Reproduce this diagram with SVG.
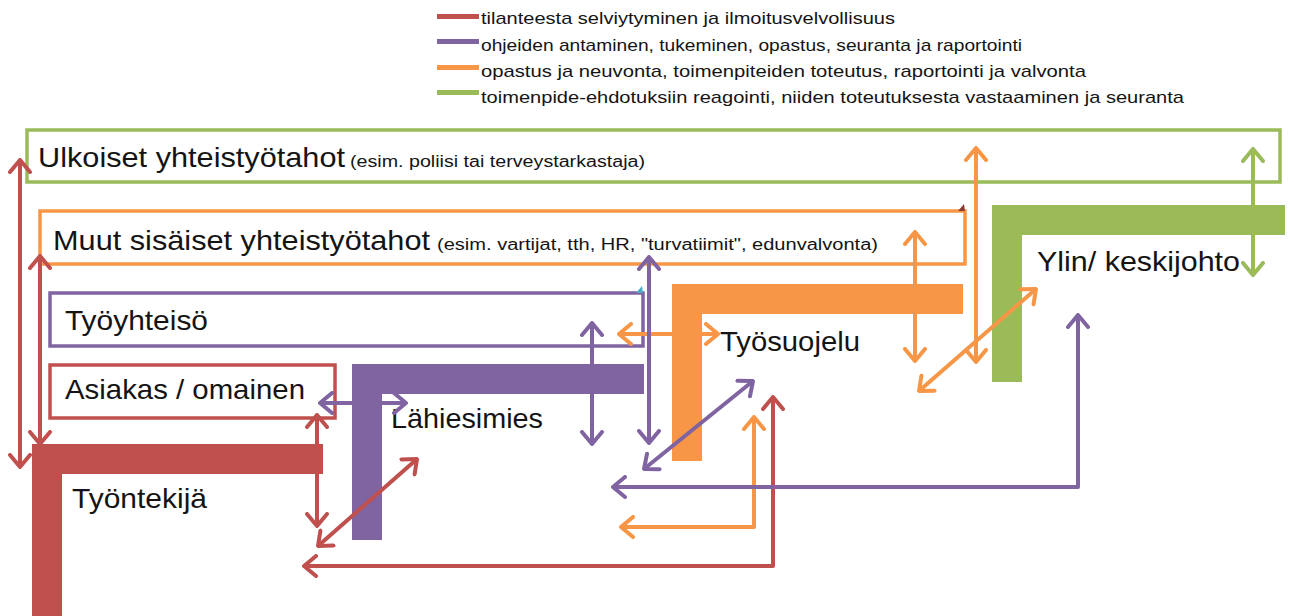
<svg xmlns="http://www.w3.org/2000/svg" width="1290" height="616" viewBox="0 0 1290 616">
<style>
  text { font-family: "Liberation Sans", Arial, sans-serif; fill: #141414; }
  .big { font-size: 28px; }
  .small { font-size: 16px; }
  .leg { font-size: 17px; }
  .box { fill: none; stroke-width: 3.5; }
  .con { fill: none; stroke-width: 4; stroke-linejoin: round; }
  .r { stroke: #C0504D; }
  .p { stroke: #8064A2; }
  .o { stroke: #F79646; }
  .g { stroke: #9BBB59; }
  .rc { stroke: #C0504D; marker-start: url(#ar); marker-end: url(#ar); }
  .pc { stroke: #8064A2; marker-start: url(#ap); marker-end: url(#ap); }
  .oc { stroke: #F79646; marker-start: url(#ao); marker-end: url(#ao); }
  .gc { stroke: #9BBB59; marker-start: url(#ag); marker-end: url(#ag); }
</style>
<defs>
  <marker id="ar" viewBox="0 0 16 24" refX="14" refY="12" markerWidth="16" markerHeight="24" markerUnits="userSpaceOnUse" orient="auto-start-reverse">
    <path d="M2,2 L14,12 L2,22" fill="none" stroke="#C0504D" stroke-width="4" stroke-linecap="round" stroke-linejoin="round"/>
  </marker>
  <marker id="ap" viewBox="0 0 16 24" refX="14" refY="12" markerWidth="16" markerHeight="24" markerUnits="userSpaceOnUse" orient="auto-start-reverse">
    <path d="M2,2 L14,12 L2,22" fill="none" stroke="#8064A2" stroke-width="4" stroke-linecap="round" stroke-linejoin="round"/>
  </marker>
  <marker id="ao" viewBox="0 0 16 24" refX="14" refY="12" markerWidth="16" markerHeight="24" markerUnits="userSpaceOnUse" orient="auto-start-reverse">
    <path d="M2,2 L14,12 L2,22" fill="none" stroke="#F79646" stroke-width="4" stroke-linecap="round" stroke-linejoin="round"/>
  </marker>
  <marker id="ag" viewBox="0 0 16 24" refX="14" refY="12" markerWidth="16" markerHeight="24" markerUnits="userSpaceOnUse" orient="auto-start-reverse">
    <path d="M2,2 L14,12 L2,22" fill="none" stroke="#9BBB59" stroke-width="4" stroke-linecap="round" stroke-linejoin="round"/>
  </marker>
</defs>
<rect x="0" y="0" width="1290" height="616" fill="#ffffff"/>

<g id="legend">
  <rect x="437" y="14" width="42" height="5" fill="#C0504D"/>
  <text class="leg" x="481" y="24" textLength="414" lengthAdjust="spacingAndGlyphs">tilanteesta selviytyminen ja ilmoitusvelvollisuus</text>
  <rect x="437" y="39" width="42" height="5" fill="#8064A2"/>
  <text class="leg" x="481" y="51" textLength="541" lengthAdjust="spacingAndGlyphs">ohjeiden antaminen, tukeminen, opastus,  seuranta ja raportointi</text>
  <rect x="437" y="65" width="42" height="5" fill="#F79646"/>
  <text class="leg" x="481" y="77" textLength="605" lengthAdjust="spacingAndGlyphs">opastus ja neuvonta, toimenpiteiden toteutus,  raportointi ja valvonta</text>
  <rect x="437" y="90" width="42" height="5" fill="#9BBB59"/>
  <text class="leg" x="481" y="103" textLength="703" lengthAdjust="spacingAndGlyphs">toimenpide-ehdotuksiin  reagointi, niiden toteutuksesta  vastaaminen ja seuranta</text>
</g>

<g id="ulkoiset">
  <rect class="box g" x="27" y="130" width="1253" height="52"/>
  <text class="big" x="38" y="167" textLength="307" lengthAdjust="spacingAndGlyphs">Ulkoiset yhteistyötahot</text>
  <text class="small" x="350" y="167" textLength="295" lengthAdjust="spacingAndGlyphs">(esim. poliisi tai terveystarkastaja)</text>
</g>

<g id="muut">
  <rect class="box o" x="40" y="211" width="925" height="53"/>
  <polygon points="958,211 964,204 965,211" fill="#8B3A2F"/>
  <text class="big" x="53" y="250" textLength="377" lengthAdjust="spacingAndGlyphs">Muut sisäiset yhteistyötahot</text>
  <text class="small" x="437" y="250" textLength="441" lengthAdjust="spacingAndGlyphs">(esim. vartijat, tth, HR, &quot;turvatiimit&quot;, edunvalvonta)</text>
</g>

<g id="tyoyhteiso">
  <rect class="box p" x="50" y="293" width="593" height="53"/>
  <polygon points="636,293 642,286 643,293" fill="#4BACC6"/>
  <text class="big" x="65" y="330" textLength="143" lengthAdjust="spacingAndGlyphs">Työyhteisö</text>
</g>

<g id="asiakas">
  <rect class="box r" x="50" y="365" width="285" height="53"/>
  <text class="big" x="65" y="399" textLength="240" lengthAdjust="spacingAndGlyphs">Asiakas / omainen</text>
</g>

<g id="tyontekija">
  <path d="M32,444 H323 V474 H62 V616 H32 Z" fill="#C0504D"/>
  <text class="big" x="72" y="508" textLength="135" lengthAdjust="spacingAndGlyphs">Työntekijä</text>
</g>

<g id="lahiesimies">
  <path d="M352,364 H644 V394 H382 V540 H352 Z" fill="#8064A2"/>
  <text class="big" x="391" y="428" textLength="152" lengthAdjust="spacingAndGlyphs">Lähiesimies</text>
</g>

<g id="tyosuojelu">
  <path d="M672,284 H963 V314 H702 V461 H672 Z" fill="#F79646"/>
  <text class="big" x="720" y="351" textLength="140" lengthAdjust="spacingAndGlyphs">Työsuojelu</text>
</g>

<g id="ylin">
  <path d="M992,205 H1285 V235 H1022 V382 H992 Z" fill="#9BBB59"/>
  <text class="big" x="1037" y="271" textLength="203" lengthAdjust="spacingAndGlyphs">Ylin/ keskijohto</text>
</g>

<g id="connectors">
  <path class="con rc" d="M20,160 V467"/>
  <path class="con rc" d="M40,256 V444"/>
  <path class="con rc" d="M317,415 V526"/>
  <path class="con rc" d="M318,546 L417,459"/>
  <path class="con rc" d="M773,397 V566 H304"/>
  <path class="con oc" d="M621,527 H754 V417"/>
  <path class="con oc" d="M619,334 H718"/>
  <path class="con oc" d="M915,232 V361"/>
  <path class="con oc" d="M976,148 V362"/>
  <path class="con oc" d="M919,391 L1036,289"/>
  <path class="con pc" d="M320,403 H406"/>
  <path class="con pc" d="M592,323 V444"/>
  <path class="con pc" d="M649,257 V443"/>
  <path class="con pc" d="M644,469 L753,381"/>
  <path class="con pc" d="M613,487 H1078 V315"/>
  <path class="con gc" d="M1253,149 V275"/>
</g>
</svg>
